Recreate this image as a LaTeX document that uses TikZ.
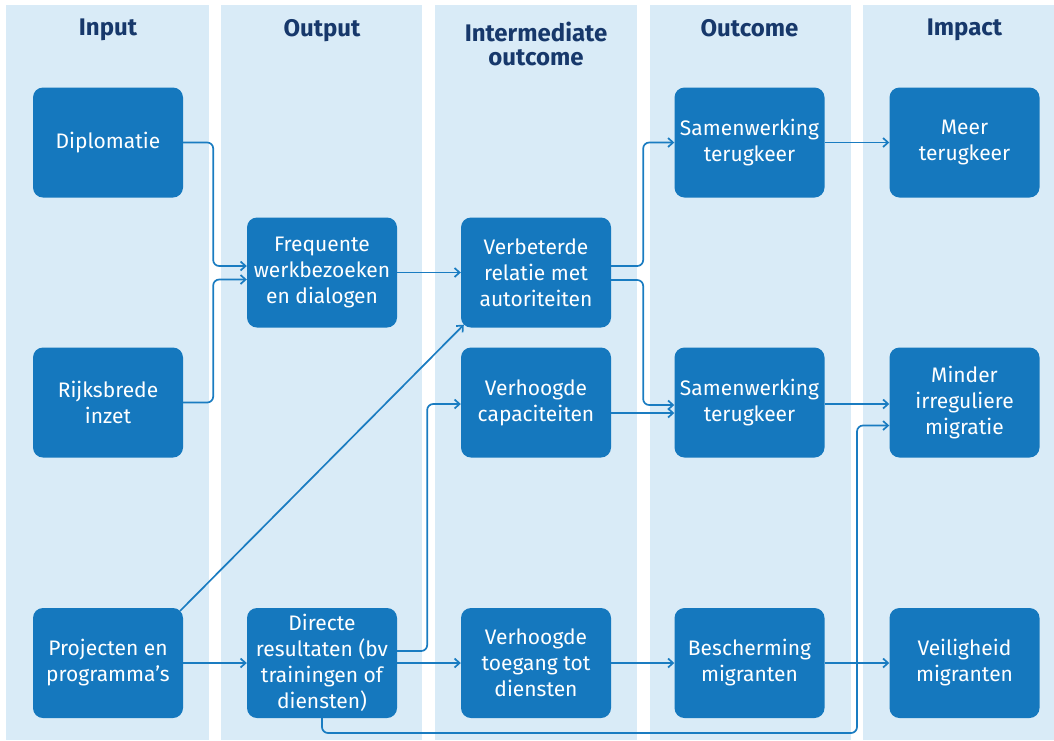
\documentclass[tikz,border=0pt]{standalone}
\usepackage{fontspec}
\setmainfont{Fira Sans}
\usetikzlibrary{arrows.meta}
\definecolor{boxblue}{HTML}{1578BE}
\definecolor{laneblue}{HTML}{D9EBF7}
\definecolor{linkblue}{HTML}{1A7CC1}
\definecolor{headblue}{HTML}{17386B}

\begin{document}
\begin{tikzpicture}[x=1pt, y=-1pt,
	lane/.style={fill=laneblue, draw=none},
	head/.style={anchor=north, text=headblue, align=center, inner sep=0pt,
		font=\bfseries\fontsize{24}{24}\selectfont},
	box/.style={fill=boxblue, draw=none, rounded corners=10pt, minimum width=150pt,
		minimum height=110pt, inner sep=0pt, text=white, align=center,
		font=\fontsize{21}{26}\selectfont},
	link/.style={draw=linkblue, line width=1.7pt, rounded corners=6pt,
		-{Straight Barb[length=5pt,width=9pt]}}]
	\useasboundingbox (0,0) rectangle (1054,740);
	% columns
	\fill[lane] (6,5) rectangle (209,740);
	\fill[lane] (221,5) rectangle (422,740);
	\fill[lane] (435,5) rectangle (637,740);
	\fill[lane] (650,5) rectangle (851,740);
	\fill[lane] (863,5) rectangle (1054,740);
	\node[head] (hin) at (108,19) {Input};
	\node[head] (hout) at (322,19) {Output};
	\node[head] (hint) at (536,22) {Intermediate\\outcome};
	\node[head] (hoc) at (749.5,19) {Outcome};
	\node[head] (himp) at (964.5,19) {Impact};
	% boxes
	\node[box] (dipl) at (108,142.5) {Diplomatie};
	\node[box] (rijk) at (108,402.5) {Rijksbrede\\inzet};
	\node[box] (proj) at (108,663) {Projecten en\\programma’s};
	\node[box] (freq) at (322,272.5) {Frequente\\werkbezoeken\\en dialogen};
	\node[box] (dir) at (322,663) {Directe\\resultaten (bv\\trainingen of\\diensten)};
	\node[box] (verb) at (536,272.5) {Verbeterde\\relatie met\\autoriteiten};
	\node[box] (cap) at (536,402.5) {Verhoogde\\capaciteiten};
	\node[box] (toeg) at (536,663) {Verhoogde\\toegang tot\\diensten};
	\node[box] (sam1) at (749.5,142.5) {Samenwerking\\terugkeer};
	\node[box] (sam2) at (749.5,402.5) {Samenwerking\\terugkeer};
	\node[box] (besch) at (749.5,663) {Bescherming\\migranten};
	\node[box] (meer) at (964.5,142.5) {Meer\\terugkeer};
	\node[box] (mind) at (964.5,402.5) {Minder\\irreguliere\\migratie};
	\node[box] (veil) at (964.5,663) {Veiligheid\\migranten};
	% links
	\draw[link] (dipl.east) -- ++(30,0) |- ([yshift=6.5pt]freq.west);
	\draw[link] (rijk.east) -- ++(30,0) |- ([yshift=-7pt]freq.west);
	\draw[link] (freq.east) -- (verb.west);
	\draw[link] ([shift={(-3pt,-3pt)}]proj.north east) -- ([shift={(3pt,3pt)}]verb.south west);
	\draw[link] (proj.east) -- (dir.west);
	\draw[link] ([yshift=12pt]dir.east) -- ++(30,0) |- ([yshift=-1.5pt]cap.west);
	\draw[link] (dir.east) -- (toeg.west);
	\coordinate (under) at (857,733);
	\draw[link] (dir.south) |- (under) |- ([yshift=-23pt]mind.west);
	\draw[link] ([yshift=6.5pt]verb.east) -- ++(32,0) |- (sam1.west);
	\draw[link] ([yshift=-7.5pt]verb.east) -- ++(32,0) |- ([yshift=-2.5pt]sam2.west);
	\draw[link] ([yshift=-10.5pt]cap.east) -- ([yshift=-10.5pt]sam2.west);
	\draw[link] (sam1.east) -- (meer.west);
	\draw[link] ([yshift=-1.5pt]sam2.east) -- ([yshift=-1.5pt]mind.west);
	\draw[link] (toeg.east) -- (besch.west);
	\draw[link] (besch.east) -- (veil.west);
\end{tikzpicture}
\end{document}
